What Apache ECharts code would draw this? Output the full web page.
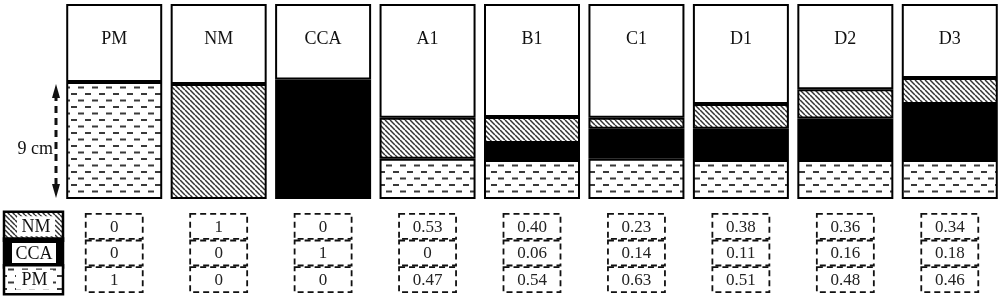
<!DOCTYPE html>
<html>
<head>
<meta charset="utf-8">
<script src="https://cdn.jsdelivr.net/npm/echarts@6/dist/echarts.min.js"></script>
<style>
    html, body {margin: 0; padding: 0; background: #fff;}
    #main {width: 1002px; height: 300px;}
</style>
</head>
<body>
<div id="main"></div>
<script>
// column names
var categories = ['PM', 'NM', 'CCA', 'A1', 'B1', 'C1', 'D1', 'D2', 'D3'];
// drawn layer thickness (cm), bottom to top
var pmLayer = [9.0, 0, 0, 3.1, 3.0, 3.1, 3.0, 3.0, 3.0];
var ccaLayer = [0, 0, 9.2, 0, 1.3, 2.3, 2.4, 3.2, 4.3];
var nmLayer = [0, 8.85, 0, 3.15, 2.0, 0.85, 1.9, 2.25, 2.0];
var boxHeight = 15;
var depthMark = 9;
// fractions shown under each column
var tableRows = ['NM', 'CCA', 'PM'];
var nmFrac = ['0', '1', '0', '0.53', '0.40', '0.23', '0.38', '0.36', '0.34'];
var ccaFrac = ['0', '0', '1', '0', '0.06', '0.14', '0.11', '0.16', '0.18'];
var pmFrac = ['1', '0', '0', '0.47', '0.54', '0.63', '0.51', '0.48', '0.46'];

var SERIF = '"Liberation Serif", "DejaVu Serif", serif';

function makePattern(type) {
    var c = document.createElement('canvas');
    var ctx;
    if (type === 'dash') {
        c.width = 14;
        c.height = 13;
        ctx = c.getContext('2d');
        ctx.fillStyle = '#fff';
        ctx.fillRect(0, 0, 14, 13);
        ctx.fillStyle = '#3a3a3a';
        ctx.fillRect(1, 2, 6, 2);
        ctx.fillRect(8, 8.5, 6, 2);
    } else {
        c.width = 5;
        c.height = 5;
        ctx = c.getContext('2d');
        ctx.fillStyle = '#fff';
        ctx.fillRect(0, 0, 5, 5);
        ctx.strokeStyle = '#333';
        ctx.lineWidth = 1.5;
        [-5, 0, 5].forEach(function (k) {
            ctx.beginPath();
            ctx.moveTo(k, 0);
            ctx.lineTo(k + 5, 5);
            ctx.stroke();
        });
    }
    return {image: c, repeat: 'repeat'};
}

var pmFill = makePattern('dash');
var nmFill = makePattern('hatch');

function nz(arr) {
    return arr.map(function (v) { return v ? v : null; });
}

var blank = categories.map(function (c, i) {
    return +(boxHeight - pmLayer[i] - ccaLayer[i] - nmLayer[i]).toFixed(2);
});

var tableData = [];
[nmFrac, ccaFrac, pmFrac].forEach(function (row, r) {
    row.forEach(function (v, i) {
        tableData.push([i, r, v]);
    });
});

var layerStyle = function (fill) {
    return {color: fill, borderColor: '#000', borderWidth: 2};
};

var myChart = echarts.init(document.getElementById('main'));
var option = {
    animation: false,
    grid: [
        {left: 62, width: 940, top: 4, height: 195},
        {left: 62, width: 940, top: 213, height: 80}
    ],
    xAxis: [
        {type: 'category', gridIndex: 0, data: categories, show: false},
        {type: 'category', gridIndex: 1, data: categories, show: false}
    ],
    yAxis: [
        {type: 'value', gridIndex: 0, min: 0, max: boxHeight, show: false},
        {type: 'category', gridIndex: 1, data: tableRows, inverse: true, show: false}
    ],
    series: [
        {
            name: 'PM', type: 'bar', stack: 'col', data: nz(pmLayer),
            barWidth: 96, itemStyle: layerStyle(pmFill)
        },
        {
            name: 'CCA', type: 'bar', stack: 'col', data: nz(ccaLayer),
            barWidth: 96, itemStyle: layerStyle('#000')
        },
        {
            name: 'NM', type: 'bar', stack: 'col', data: nz(nmLayer),
            barWidth: 96, itemStyle: layerStyle(nmFill)
        },
        {
            name: 'top', type: 'bar', stack: 'col', data: blank,
            barWidth: 96, itemStyle: layerStyle('#fff'),
            label: {
                show: true, position: 'insideTop', distance: 26,
                formatter: function (p) { return p.name; },
                fontFamily: SERIF, fontSize: 18, color: '#111'
            }
        },
        {
            type: 'custom',
            xAxisIndex: 1,
            yAxisIndex: 1,
            data: tableData,
            renderItem: function (params, api) {
                var pt = api.coord([api.value(0), api.value(1)]);
                var w = 57, h = 25;
                return {
                    type: 'group',
                    children: [
                        {
                            type: 'rect',
                            shape: {x: pt[0] - w / 2, y: pt[1] - h / 2, width: w, height: h},
                            style: {fill: '#fff', stroke: '#111', lineWidth: 1.8, lineDash: [6, 4]}
                        },
                        {
                            type: 'text',
                            style: {
                                x: pt[0], y: pt[1] + 1, text: tableData[params.dataIndex][2],
                                align: 'center', verticalAlign: 'middle',
                                font: '17px ' + SERIF, fill: '#222'
                            }
                        }
                    ]
                };
            }
        }
    ]
};
myChart.setOption(option);

// depth arrow and legend
var yTop = myChart.convertToPixel({yAxisIndex: 0}, depthMark);
var yBot = myChart.convertToPixel({yAxisIndex: 0}, 0);
var rowY = tableRows.map(function (r, i) {
    return myChart.convertToPixel({yAxisIndex: 1}, i);
});
var ax = 56;
var legendItems = [
    {label: 'NM', fill: nmFill, inner: [17, 55]},
    {label: 'CCA', fill: '#000', inner: [12, 56]},
    {label: 'PM', fill: pmFill, inner: [16, 53]}
];
var graphics = [
    {
        type: 'line', shape: {x1: ax, y1: yTop + 12, x2: ax, y2: yBot - 12},
        style: {stroke: '#111', lineWidth: 3, lineDash: [7, 5]}
    },
    {
        type: 'polygon', shape: {points: [[ax, yTop + 2], [ax - 4, yTop + 16], [ax + 4, yTop + 16]]},
        style: {fill: '#111'}
    },
    {
        type: 'polygon', shape: {points: [[ax, yBot - 1], [ax - 4, yBot - 15], [ax + 4, yBot - 15]]},
        style: {fill: '#111'}
    },
    {
        type: 'text', style: {
            x: 53, y: (yTop + yBot) / 2 + 9, text: '9 cm', align: 'right', verticalAlign: 'middle',
            font: '18px ' + SERIF, fill: '#111'
        }
    }
];
legendItems.forEach(function (it, i) {
    var cy = rowY[i];
    var h = 29;
    graphics.push({
        type: 'rect', shape: {x: 4, y: cy - h / 2, width: 59, height: h},
        style: {fill: it.fill, stroke: '#000', lineWidth: 2.5}
    });
    graphics.push({
        type: 'rect', shape: {x: it.inner[0], y: cy - 10, width: it.inner[1] - it.inner[0], height: 20},
        style: {fill: '#fff'}
    });
    graphics.push({
        type: 'text', style: {
            x: (it.inner[0] + it.inner[1]) / 2, y: cy + 1, text: it.label,
            align: 'center', verticalAlign: 'middle', font: '18px ' + SERIF, fill: '#111'
        }
    });
});
myChart.setOption({graphic: graphics});
</script>
</body>
</html>
